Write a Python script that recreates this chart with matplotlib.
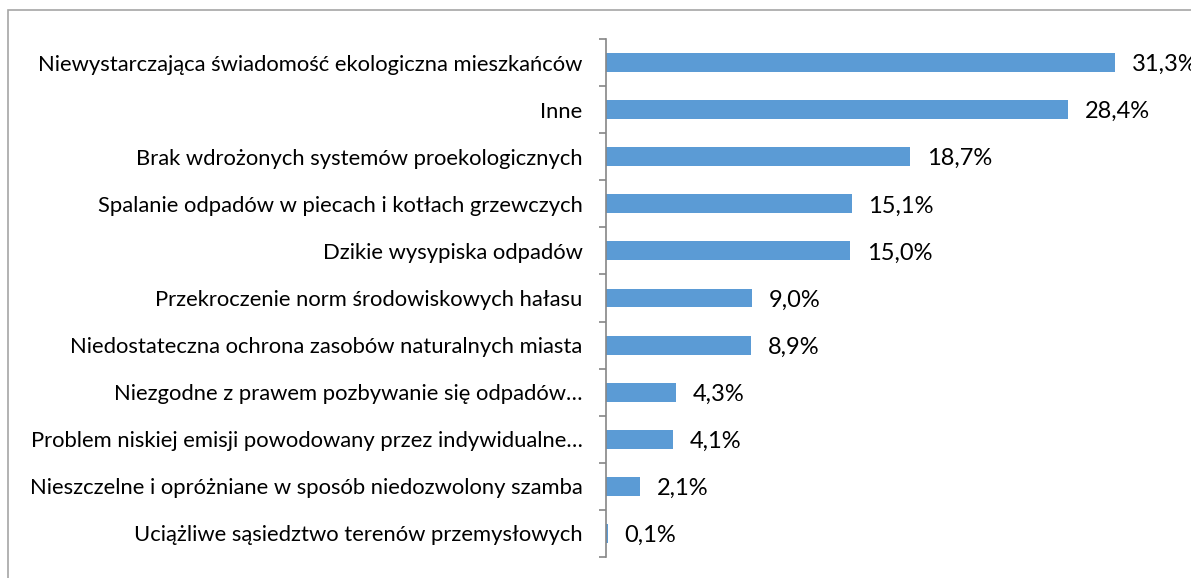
import matplotlib
matplotlib.use("Agg")
import matplotlib.pyplot as plt
from matplotlib.patches import Rectangle

categories = [
    "Niewystarczająca świadomość ekologiczna mieszkańców",
    "Inne",
    "Brak wdrożonych systemów proekologicznych",
    "Spalanie odpadów w piecach i kotłach grzewczych",
    "Dzikie wysypiska odpadów",
    "Przekroczenie norm środowiskowych hałasu",
    "Niedostateczna ochrona zasobów naturalnych miasta",
    "Niezgodne z prawem pozbywanie się odpadów…",
    "Problem niskiej emisji powodowany przez indywidualne…",
    "Nieszczelne i opróżniane w sposób niedozwolony szamba",
    "Uciążliwe sąsiedztwo terenów przemysłowych",
]
values = [31.3, 28.4, 18.7, 15.1, 15.0, 9.0, 8.9, 4.3, 4.1, 2.1, 0.1]
value_labels = ["31,3%", "28,4%", "18,7%", "15,1%", "15,0%", "9,0%",
                "8,9%", "4,3%", "4,1%", "2,1%", "0,1%"]

plt.rcParams["font.family"] = ["Lato", "DejaVu Sans"]

W, H = 1191, 578
fig = plt.figure(figsize=(W / 100, H / 100), dpi=100)

# outer chart-area border (extends past the right and bottom edges)
fig.add_artist(Rectangle((8 / W, -0.05), 1.2, 1.05 - 10 / H,
                         transform=fig.transFigure, fill=False,
                         edgecolor="#A6A6A6", linewidth=1.2))

x0, x1 = 606, W
y_top, y_bot = 39, 557
ax = fig.add_axes([x0 / W, 1 - y_bot / H, (x1 - x0) / W, (y_bot - y_top) / H])

px_per_unit = (1115 - 606) / 31.3
ax.set_xlim(0, (x1 - x0) / px_per_unit)

pos = list(range(len(categories)))
ax.barh(pos, values, height=0.4, color="#5B9BD5")
ax.set_ylim(len(categories) - 0.5, -0.5)

for p, v, lab in zip(pos, values, value_labels):
    ax.annotate(lab, (v, p), xytext=(12, -1.5), textcoords="offset points",
                va="center", ha="left", fontsize=17, color="#000000",
                annotation_clip=False)

ax.set_yticks(pos)
ax.set_yticklabels(categories, fontsize=15.8, color="#000000")
ax.tick_params(axis="y", which="major", length=0, pad=17)
ax.set_yticks([p - 0.5 for p in pos] + [len(pos) - 0.5], minor=True)
ax.tick_params(axis="y", which="minor", length=5, width=1.2, color="#868686",
               direction="out")
ax.set_xticks([])

for s in ("top", "right", "bottom"):
    ax.spines[s].set_visible(False)
ax.spines["left"].set_color("#868686")
ax.spines["left"].set_linewidth(1.2)

fig.savefig("out.png", dpi=100)
